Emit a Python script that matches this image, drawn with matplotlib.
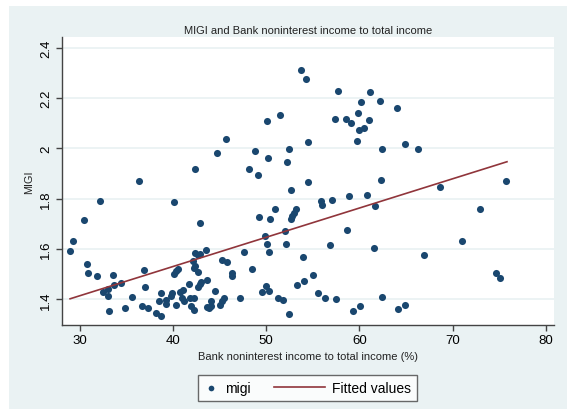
import numpy as np
import matplotlib
matplotlib.use("Agg")
import matplotlib.pyplot as plt
from matplotlib.patches import Rectangle
from matplotlib.lines import Line2D
from matplotlib.legend_handler import HandlerLine2D

plt.rcParams['font.family'] = ['Liberation Sans', 'DejaVu Sans']

# bank noninterest income to total income (%) and MIGI
nonint = [36.34, 42.39, 44.75, 45.65, 53.74, 54.24, 57.68, 61.18, 60.18, 62.19,
          51.52, 50.09, 59.86, 57.35, 58.60, 59.11, 61.07, 59.97, 60.54, 59.79,
          54.52, 48.83, 52.45, 50.16, 52.23, 48.15, 49.15, 54.45, 62.44, 62.30,
          64.01, 64.94, 66.27, 75.79, 32.11, 40.10, 30.47, 42.86, 29.28, 28.93,
          30.79, 30.86, 31.79, 33.54, 36.87, 36.94, 32.50, 33.04, 33.69, 34.40,
          33.04, 35.55, 33.11, 34.80, 36.69, 37.30, 38.20, 38.70, 38.70, 38.45,
          39.20, 39.27, 39.85, 39.80, 40.35, 40.13, 40.28, 40.56, 40.74, 41.03,
          40.92, 41.20, 41.67, 41.81, 42.21, 41.89, 42.24, 42.27, 42.35, 42.64,
          42.92, 43.57, 42.17, 42.35, 42.64, 42.64, 42.92, 43.00, 43.68, 44.50,
          43.61, 43.86, 44.07, 44.07, 45.04, 45.22, 45.50, 45.29, 52.66, 55.85,
          56.03, 57.10, 58.86, 60.86, 61.69, 50.98, 53.20, 52.96, 52.80, 52.66,
          49.23, 50.44, 51.99, 58.64, 49.87, 50.09, 52.16, 56.85, 61.54, 50.33,
          47.65, 53.99, 45.75, 48.51, 46.33, 46.36, 54.98, 54.06, 53.34, 49.98,
          49.51, 50.33, 47.22, 51.23, 51.84, 55.53, 56.35, 57.46, 52.45, 59.29,
          60.11, 62.44, 68.70, 72.96, 71.06, 66.95, 74.65, 75.15, 64.12, 64.94]
migi = [1.870, 1.918, 1.980, 2.036, 2.313, 2.276, 2.229, 2.225, 2.186, 2.188,
        2.133, 2.108, 2.140, 2.118, 2.116, 2.102, 2.112, 2.073, 2.080, 2.028,
        2.024, 1.991, 1.999, 1.962, 1.945, 1.917, 1.894, 1.868, 1.996, 1.876,
        2.162, 2.019, 1.996, 1.870, 1.792, 1.786, 1.717, 1.702, 1.633, 1.593,
        1.540, 1.503, 1.491, 1.498, 1.515, 1.448, 1.430, 1.441, 1.456, 1.466,
        1.413, 1.409, 1.352, 1.364, 1.373, 1.364, 1.347, 1.334, 1.426, 1.393,
        1.398, 1.381, 1.426, 1.412, 1.379, 1.501, 1.514, 1.520, 1.428, 1.436,
        1.405, 1.394, 1.461, 1.404, 1.405, 1.373, 1.356, 1.523, 1.584, 1.576,
        1.580, 1.596, 1.551, 1.531, 1.507, 1.448, 1.461, 1.468, 1.477, 1.434,
        1.371, 1.364, 1.394, 1.375, 1.379, 1.394, 1.405, 1.556, 1.836, 1.790,
        1.776, 1.796, 1.811, 1.814, 1.770, 1.760, 1.760, 1.743, 1.731, 1.718,
        1.727, 1.718, 1.670, 1.674, 1.650, 1.621, 1.621, 1.616, 1.605, 1.587,
        1.587, 1.568, 1.550, 1.522, 1.505, 1.493, 1.498, 1.473, 1.458, 1.454,
        1.430, 1.433, 1.406, 1.404, 1.398, 1.424, 1.404, 1.401, 1.343, 1.352,
        1.373, 1.408, 1.848, 1.760, 1.631, 1.577, 1.506, 1.485, 1.361, 1.376]

# fitted values line (ends of the regression line)
fit_x = [28.93, 75.85]
fit_y = [1.402, 1.947]

xticks = [30, 40, 50, 60, 70, 80]
yticks = [1.4, 1.6, 1.8, 2.0, 2.2, 2.4]
ytick_labels = ['1.4', '1.6', '1.8', '2', '2.2', '2.4']

navy = '#1a476f'
maroon = '#90353b'
bg = '#eaf2f3'
axcol = '#444444'


class LongLine(HandlerLine2D):
    # legend line that reaches further left than the (short) handle box
    def create_artists(self, legend, orig_handle, xdescent, ydescent, width, height, fontsize, trans):
        y = (height - ydescent) / 2
        ln = Line2D([-xdescent - 2.7 * width, -xdescent + width], [y, y],
                    color=orig_handle.get_color(), lw=orig_handle.get_linewidth())
        ln.set_transform(trans)
        return [ln]


fig = plt.figure(figsize=(5.67, 4.10), dpi=100, facecolor='white')
# light bluish graph region (the picture has a thin white edge top and left)
fig.patches.append(Rectangle((9 / 567, 0), 1, 1 - 7 / 410, transform=fig.transFigure,
                             facecolor=bg, edgecolor='none', zorder=-10))

ax = fig.add_axes([61.7 / 567, 1 - 325.7 / 410, (554 - 61.7) / 567, (325.7 - 38) / 410])
ax.set_facecolor('white')

pts = ax.scatter(nonint, migi, s=26, color=navy, linewidths=0, zorder=3)
fl, = ax.plot(fit_x, fit_y, color=maroon, lw=1.2, zorder=4)

ax.set_xlim(28.03, 80.9)
ax.set_ylim(1.299, 2.443)
ax.set_xticks(xticks)
ax.set_yticks(yticks)
ax.set_yticklabels(ytick_labels, rotation=90, va='center')
ax.yaxis.grid(True, color=bg, lw=1.3)
ax.set_axisbelow(True)

for s in ['top', 'right']:
    ax.spines[s].set_visible(False)
for s in ['left', 'bottom']:
    ax.spines[s].set_color(axcol)
    ax.spines[s].set_linewidth(1.0)
ax.tick_params(axis='both', direction='out', length=4, width=1.0, color=axcol,
               labelsize=9.5, labelcolor='black', pad=3)

ax.set_xlabel('Bank noninterest income to total income (%)', fontsize=8, color='#222222', labelpad=3)
ax.set_ylabel('MIGI', fontsize=7.8, color='#222222', labelpad=4)
ax.set_title('MIGI and Bank noninterest income to total income', fontsize=8, color='#222222', pad=3)

leg = fig.legend([pts, fl], ['migi', 'Fitted values'], loc='center',
                 bbox_to_anchor=(307.5 / 567, 1 - 389 / 410), ncol=2,
                 handler_map={fl: LongLine()},
                 fontsize=10, frameon=True, fancybox=False, handlelength=1.0,
                 columnspacing=4.4, handletextpad=0.45, borderpad=0.45, markerscale=0.8)
leg.get_frame().set_edgecolor(axcol)
leg.get_frame().set_linewidth(1.0)
leg.get_frame().set_facecolor('white')

plt.savefig('out.png', dpi=100, facecolor='white')
